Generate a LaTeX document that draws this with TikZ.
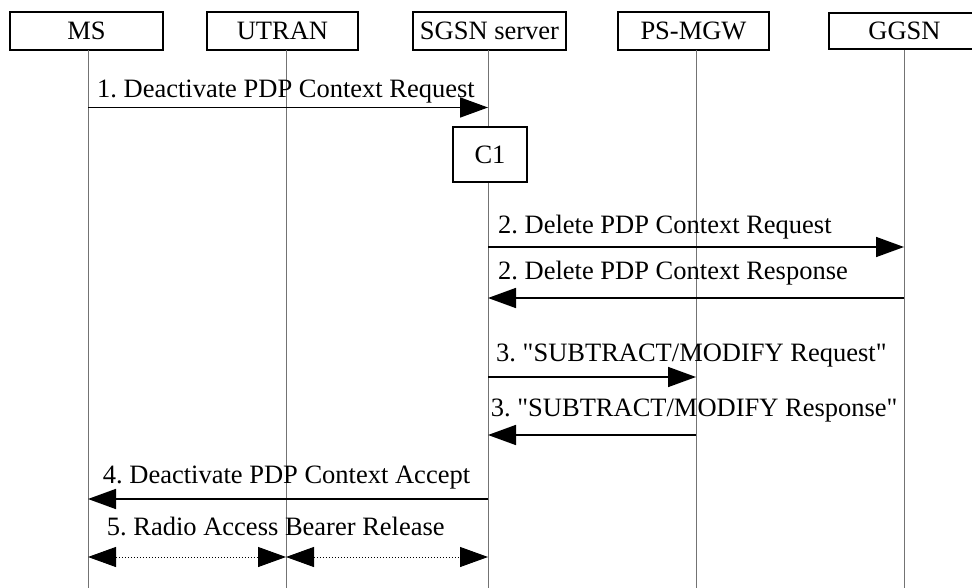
\documentclass[tikz,border=0pt]{standalone}
\usepackage{fontspec}
\setmainfont{Liberation Serif}
\usetikzlibrary{arrows.meta}
\frenchspacing
\begin{document}
\begin{tikzpicture}[x=1pt,y=-1pt,
  txt/.style={font=\fontsize{26.5}{30}\selectfont\frenchspacing},
  hdr/.style={draw,line width=1.2pt,inner sep=0,txt,minimum height=38pt,fill=white},
  life/.style={draw=black!55,line width=1pt},
  msg/.style={line width=1.6pt,-{Triangle[length=28pt,width=20pt]}},
  rab/.style={line width=1pt,dotted,{Triangle[length=28pt,width=20pt]}-{Triangle[length=28pt,width=20pt]}},
  lbl/.style={anchor=base west,inner sep=0,txt}]
\useasboundingbox (0,0) rectangle (972,588);
\clip (0,0) rectangle (972,588);
% headers
\node[hdr,minimum width=153pt] (ms) at (86.5,31) {MS};
\node[hdr,minimum width=151pt] (utran) at (282.5,31) {UTRAN};
\node[hdr,minimum width=153pt] (sgsn) at (489.5,31) {SGSN server};
\node[hdr,minimum width=151pt] (mgw) at (693.5,31) {PS-MGW};
\node[hdr,minimum width=151pt,minimum height=36pt] (ggsn) at (904.5,31) {GGSN};
% lifelines
\coordinate (msT) at (88,50);   \coordinate (msB) at (88,588);
\coordinate (utT) at (286,50);  \coordinate (utB) at (286,588);
\coordinate (sgT) at (488,50);  \coordinate (sgB) at (488,588);
\coordinate (mgT) at (696,50);  \coordinate (mgB) at (696,588);
\coordinate (ggT) at (904,50);  \coordinate (ggB) at (904,588);
\draw[life] (msT) -- (msB);
\draw[life] (utT) -- (utB);
\draw[life] (sgT) -- (sgB);
\draw[life] (mgT) -- (mgB);
\draw[life] (ggT) -- (ggB);
% C1 box
\node[draw,line width=1.2pt,fill=white,txt,minimum width=74pt,minimum height=55pt,inner sep=0] (c1) at (490,154.5) {C1};
% rows
\coordinate (r1) at (0,107.5);
\coordinate (r2) at (0,247);
\coordinate (r3) at (0,298);
\coordinate (r4) at (0,377);
\coordinate (r5) at (0,435);
\coordinate (r6) at (0,499);
\coordinate (r7) at (0,557);
% messages
\draw[msg] (msT |- r1) -- (sgT |- r1);
\node[lbl] (l1) at (97,97.3) {1. Deactivate PDP Context Request};
\draw[msg] (sgT |- r2) -- (ggT |- r2);
\node[lbl] (l2a) at (498,233.3) {2. Delete PDP Context Request};
\draw[msg] (ggT |- r3) -- (sgT |- r3);
\node[lbl] (l2b) at (498,279.5) {2. Delete PDP Context Response};
\draw[msg] (sgT |- r4) -- (mgT |- r4);
\node[lbl] (l3a) at (496,361.7) {3. \textquotedbl SUBTRACT/MODIFY Request\textquotedbl};
\draw[msg] (mgT |- r5) -- (sgT |- r5);
\node[lbl] (l3b) at (490.7,416.7) {3. \textquotedbl SUBTRACT/MODIFY Response\textquotedbl};
\draw[msg] (sgT |- r6) -- (msT |- r6);
\node[lbl] (l4) at (102.7,483) {4. Deactivate PDP Context Accept};
\draw[rab] (msT |- r7) -- (utT |- r7);
\draw[rab] (utT |- r7) -- (sgT |- r7);
\node[lbl] (l5) at (106.7,535) {5. Radio Access Bearer Release};
\end{tikzpicture}
\end{document}
